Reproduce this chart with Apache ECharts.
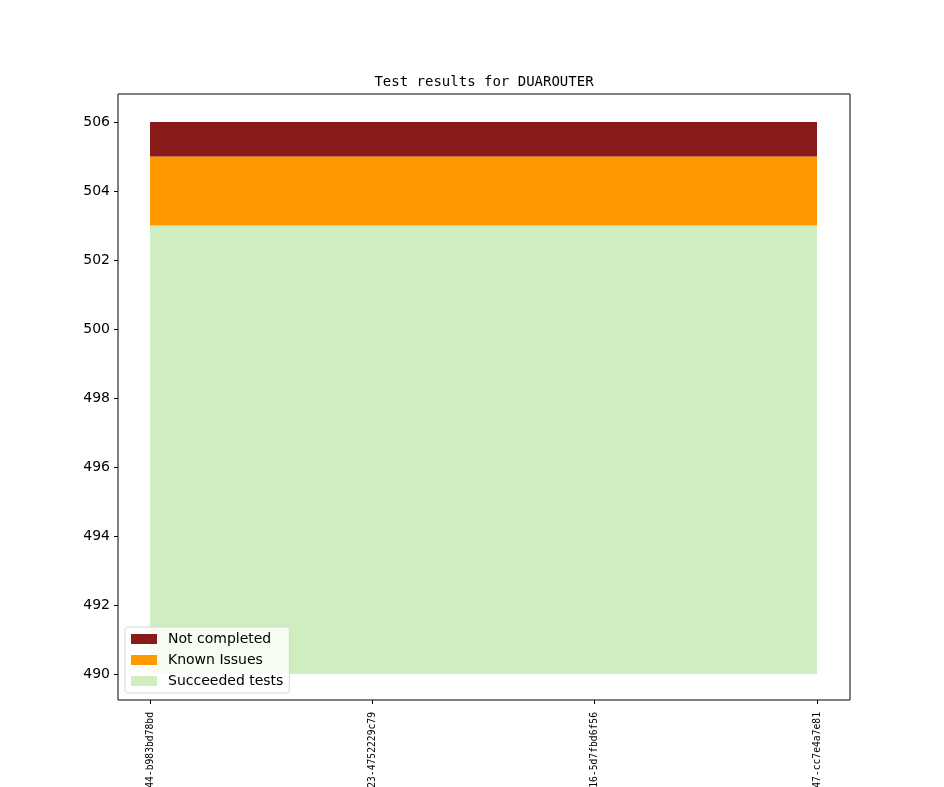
<!DOCTYPE html>
<html>
<head>
<meta charset="utf-8">
<script src="https://cdn.jsdelivr.net/npm/echarts@6/dist/echarts.min.js"></script>
<style>
  html, body { margin: 0; padding: 0; background: #fff; }
  #chart { width: 944px; height: 787px; }
</style>
</head>
<body>
<div id="chart"></div>
<script>
// commit ids, only the tail of each is visible in the picture
const commits = [
  'e1f07a3c-5b9d-4c44-b983bd78bd',
  '7d2c61ab-90fe-4e23-4752229c79',
  '3a8b4f10-c2d7-4316-5d7fbd6f56',
  'b56e0d92-18ac-4a47-cc7e4a7e81'
]
const succeeded = [503, 503, 503, 503]
const knownIssues = [2, 2, 2, 2]
const notCompleted = [1, 1, 1, 1]

const colors = {
  succeeded: '#d0edbf',
  known: '#ff9900',
  notCompleted: '#8b1a1a'
}

const chart = echarts.init(document.getElementById('chart'))

// stacked area, one series per state
const areaSeries = (name, data, color) => ({
  name: name,
  type: 'line',
  xAxisIndex: 1,
  yAxisIndex: 1,
  stack: 'total',
  data: data,
  color: color,
  symbol: 'none',
  lineStyle: { width: 0 },
  areaStyle: { color: color, opacity: 1 },
  emphasis: { disabled: true }
})

chart.setOption({
  animation: false,
  title: {
    text: 'Test results for DUAROUTER',
    left: 479,
    top: 70,
    textAlign: 'center',
    textStyle: { fontFamily: 'DejaVu Sans Mono', fontSize: 14, fontWeight: 'normal', color: '#000' }
  },
  legend: {
    orient: 'vertical',
    left: 125,
    top: 627,
    data: ['Not completed', 'Known Issues', 'Succeeded tests'],
    icon: 'rect',
    itemWidth: 26,
    itemHeight: 10,
    itemGap: 7,
    padding: [5, 6, 5, 6],
    borderColor: '#d6d6d6',
    borderWidth: 1,
    borderRadius: 3,
    backgroundColor: 'rgba(255,255,255,0.8)',
    textStyle: { fontFamily: 'DejaVu Sans', fontSize: 14, color: '#000', padding: [0, 0, 0, 6] }
  },
  grid: [
    // frame
    { left: 118, top: 94, width: 732, height: 606, show: true, borderColor: '#000', borderWidth: 1, backgroundColor: 'transparent', outerBoundsMode: 'none', containLabel: false },
    // data area, inset like matplotlib margins
    { left: 150, top: 122, width: 667, height: 552, outerBoundsMode: 'none', containLabel: false }
  ],
  xAxis: [
    { gridIndex: 0, type: 'value', show: false },
    {
      gridIndex: 1,
      type: 'category',
      boundaryGap: false,
      data: commits,
      offset: 26,
      axisLine: { show: false },
      axisTick: { show: true, length: 4, lineStyle: { color: '#000' } },
      axisLabel: { rotate: 90, margin: 12, fontFamily: 'DejaVu Sans Mono', fontSize: 9.7, color: '#000', interval: 0 },
      splitLine: { show: false }
    }
  ],
  yAxis: [
    { gridIndex: 0, type: 'value', show: false },
    {
      gridIndex: 1,
      type: 'value',
      min: 490,
      max: 506,
      interval: 2,
      offset: 32,
      axisLine: { show: false },
      axisTick: { show: true, length: 4, lineStyle: { color: '#000' } },
      axisLabel: { margin: 8, fontFamily: 'DejaVu Sans', fontSize: 14, color: '#000' },
      splitLine: { show: false }
    }
  ],
  series: [
    areaSeries('Succeeded tests', succeeded, colors.succeeded),
    areaSeries('Known Issues', knownIssues, colors.known),
    areaSeries('Not completed', notCompleted, colors.notCompleted)
  ]
})
</script>
</body>
</html>
